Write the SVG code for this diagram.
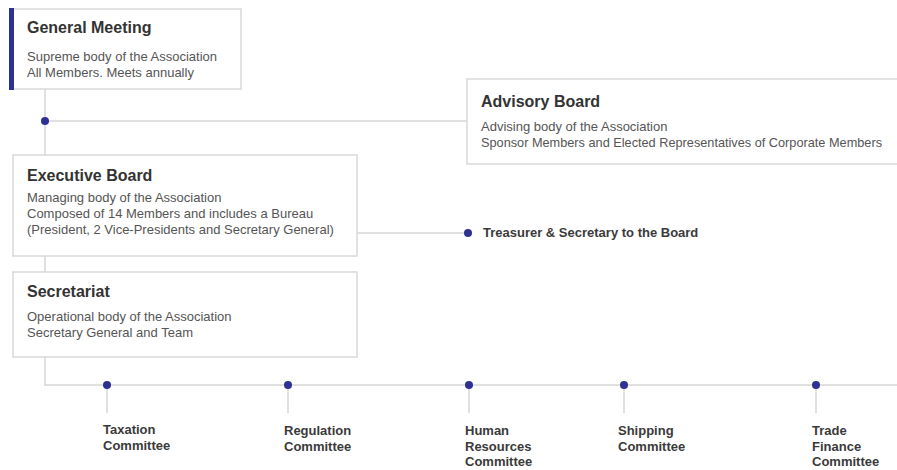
<svg xmlns="http://www.w3.org/2000/svg" width="897" height="470" viewBox="0 0 897 470">
  <style>
    .box { fill: #ffffff; stroke: #d9d9d9; stroke-width: 1.5; }
    .line { stroke: #d6d6d6; stroke-width: 1.5; fill: none; }
    .dot { fill: #2e3192; }
    .title { font-family: "Liberation Sans", Arial, sans-serif; font-size: 16px; font-weight: bold; fill: #333333; }
    .sub { font-family: "Liberation Sans", Arial, sans-serif; font-size: 13px; fill: #555555; }
    .label { font-family: "Liberation Sans", Arial, sans-serif; font-size: 13px; font-weight: bold; fill: #3a3a3a; }
  </style>
  <rect width="897" height="470" fill="#ffffff"/>

  <!-- connectors -->
  <g id="connectors">
    <line class="line" x1="45" y1="89" x2="45" y2="385"/>
    <line class="line" x1="45" y1="121" x2="467" y2="121"/>
    <line class="line" x1="357" y1="233" x2="468" y2="233"/>
    <line class="line" x1="44" y1="385" x2="897" y2="385"/>
    <line class="line" x1="107" y1="385" x2="107" y2="413"/>
    <line class="line" x1="288" y1="385" x2="288" y2="413"/>
    <line class="line" x1="469" y1="385" x2="469" y2="413"/>
    <line class="line" x1="624" y1="385" x2="624" y2="413"/>
    <line class="line" x1="816" y1="385" x2="816" y2="413"/>
    <circle class="dot" cx="45" cy="121" r="4"/>
    <circle class="dot" cx="468" cy="233" r="4"/>
    <circle class="dot" cx="107" cy="385" r="4"/>
    <circle class="dot" cx="288" cy="385" r="4"/>
    <circle class="dot" cx="469" cy="385" r="4"/>
    <circle class="dot" cx="624" cy="385" r="4"/>
    <circle class="dot" cx="816" cy="385" r="4"/>
  </g>

  <g id="general-meeting">
    <rect class="box" x="11" y="9" width="230" height="80"/>
    <rect x="9" y="8" width="5" height="82" fill="#2e3192"/>
    <text class="title" x="27" y="33">General Meeting</text>
    <text class="sub" x="27" y="61">Supreme body of the Association</text>
    <text class="sub" x="27" y="77">All Members. Meets annually</text>
  </g>

  <g id="advisory-board">
    <rect class="box" x="467" y="79" width="440" height="85"/>
    <text class="title" x="481" y="107">Advisory Board</text>
    <text class="sub" x="481" y="131">Advising body of the Association</text>
    <text class="sub" x="481" y="147" textLength="401" lengthAdjust="spacingAndGlyphs">Sponsor Members and Elected Representatives of Corporate Members</text>
  </g>

  <g id="executive-board">
    <rect class="box" x="13" y="155" width="344" height="101"/>
    <text class="title" x="27" y="181">Executive Board</text>
    <text class="sub" x="27" y="202">Managing body of the Association</text>
    <text class="sub" x="27" y="218">Composed of 14 Members and includes a Bureau</text>
    <text class="sub" x="27" y="234">(President, 2 Vice-Presidents and Secretary General)</text>
  </g>

  <g id="treasurer">
    <text class="label" x="483" y="237">Treasurer &amp; Secretary to the Board</text>
  </g>

  <g id="secretariat">
    <rect class="box" x="13" y="272" width="344" height="85"/>
    <text class="title" x="27" y="297">Secretariat</text>
    <text class="sub" x="27" y="321">Operational body of the Association</text>
    <text class="sub" x="27" y="337">Secretary General and Team</text>
  </g>

  <g id="taxation-committee">
    <text class="label" x="103" y="434">Taxation</text>
    <text class="label" x="103" y="450">Committee</text>
  </g>
  <g id="regulation-committee">
    <text class="label" x="284" y="435">Regulation</text>
    <text class="label" x="284" y="451">Committee</text>
  </g>
  <g id="hr-committee">
    <text class="label" x="465" y="435">Human</text>
    <text class="label" x="465" y="451">Resources</text>
    <text class="label" x="465" y="466">Committee</text>
  </g>
  <g id="shipping-committee">
    <text class="label" x="618" y="435">Shipping</text>
    <text class="label" x="618" y="451">Committee</text>
  </g>
  <g id="trade-finance-committee">
    <text class="label" x="812" y="435">Trade</text>
    <text class="label" x="812" y="451">Finance</text>
    <text class="label" x="812" y="466">Committee</text>
  </g>
</svg>
